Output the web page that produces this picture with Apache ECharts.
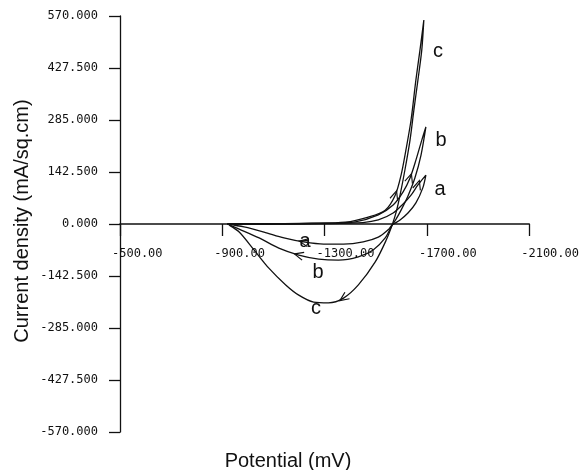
<!DOCTYPE html>
<html>
<head>
<meta charset="utf-8">
<script src="https://cdn.jsdelivr.net/npm/echarts@6/dist/echarts.min.js"></script>
<style>
html,body{margin:0;padding:0;background:#fff;}
#chart{width:582px;height:470px;}
</style>
</head>
<body>
<div id="chart"></div>
<script>
// Potential (mV) and current density (mA/sq.cm) for each sweep, in drawing order:
// forward sweep -> reverse sweep -> cathodic hump back to start
const potA = [-919,-1100,-1300,-1450,-1510,-1568,-1607,-1638,-1665,-1696,
              -1684,-1657,-1626,-1595,-1564,
              -1548,-1510,-1451,-1374,-1296,-1218,-1141,-1063,-985,-919];
const curA = [0,0,1,4,11,30,55,79,107,134,
              99,58,30,11,-3,
              -16,-36,-49,-55,-55,-49,-38,-22,-8,0];

const potB = [-919,-1100,-1300,-1420,-1510,-1568,-1607,-1634,-1657,-1680,-1696,
              -1677,-1653,-1626,-1599,-1580,-1564,
              -1537,-1490,-1432,-1354,-1277,-1199,-1121,-1044,-966,-919];
const curB = [0,0,2,6,25,52,88,126,175,230,266,
              189,126,77,38,14,-3,
              -38,-71,-90,-99,-96,-85,-66,-38,-14,0];

const potC = [-927,-1100,-1250,-1381,-1471,-1537,-1576,-1599,-1618,-1638,-1657,-1673,-1688,
              -1680,-1665,-1649,-1634,-1614,-1595,-1580,-1564,
              -1541,-1498,-1432,-1374,-1315,-1257,-1199,-1148,-1082,-1024,-966,-927];
const curC = [0,1,2,5,19,38,79,134,203,285,395,477,559,
              477,395,312,230,148,79,33,-3,
              -44,-104,-167,-203,-216,-214,-195,-167,-121,-71,-22,-3];

// sweep-direction arrows: index of the point in each series that carries one
const arrowIdxA = [8, 20];
const arrowIdxB = [7, 22];
const arrowIdxC = [6, 24];

const xMin = -2100, xMax = -500, xStep = 400;
const yMin = -570, yMax = 570, yStep = 142.5;

const arrowRot = {fwd:-18, hump:{a:80, b:75, c:125}};
function build(xs, ys, idx, humpRot){
  return xs.map((x,i)=>{
    const k = idx.indexOf(i);
    if (k < 0) return [x, ys[i]];
    return {value:[x, ys[i]], symbol:'path://M0,10 L5,0 L10,10', symbolSize:[8,9],
            symbolRotate: k === 0 ? arrowRot.fwd : humpRot,
            itemStyle:{color:'rgba(0,0,0,0)', borderColor:'#111', borderWidth:1.2}};
  });
}

const chart = echarts.init(document.getElementById('chart'), null, {renderer:'canvas'});
const tickFont = {fontFamily:'DejaVu Sans Mono', fontSize:12, color:'#111'};
const lineStyle = {color:'#111', width:1.3};
function curve(name, xs, ys, idx, humpRot){
  return {name, type:'line', data:build(xs,ys,idx,humpRot), smooth:0.3,
          symbol:'none', showSymbol:true, lineStyle, z:3, animation:false,
          emphasis:{disabled:true}};
}
const plotTop = 16, plotBottom = 38, H = 470;
const plotH = H - plotTop - plotBottom;
chart.setOption({
  animation:false,
  backgroundColor:'#fff',
  grid:{left:120, right:50, top:plotTop, bottom:plotBottom, containLabel:false},
  xAxis:{type:'value', min:xMin, max:xMax, interval:xStep, inverse:true,
    position:'bottom', offset:-plotH * (0 - yMin) / (yMax - yMin),
    axisLine:{onZero:false, lineStyle:{color:'#111', width:1.6}},
    axisTick:{show:true, length:12, inside:false, lineStyle:{color:'#111', width:1.3}},
    axisLabel:Object.assign({margin:24, align:'left', padding:[0,0,0,-8],
      formatter:v=>v.toFixed(2)}, tickFont),
    splitLine:{show:false}},
  yAxis:{type:'value', min:yMin, max:yMax, interval:yStep,
    axisLine:{lineStyle:{color:'#111', width:1.3}},
    axisTick:{show:true, length:11, lineStyle:{color:'#111', width:1.3}},
    axisLabel:Object.assign({margin:22, formatter:v=>v.toFixed(3)}, tickFont),
    splitLine:{show:false}},
  series:[curve('a', potA, curA, arrowIdxA, arrowRot.hump.a),
          curve('b', potB, curB, arrowIdxB, arrowRot.hump.b),
          curve('c', potC, curC, arrowIdxC, arrowRot.hump.c)],
  graphic:[
    {type:'text', x:22, y:221, rotation:Math.PI/2,
      style:{text:'Current density (mA/sq.cm)', font:'20px "Liberation Sans"', fill:'#111',
             align:'center', verticalAlign:'middle'}},
    {type:'text', x:288, y:461,
      style:{text:'Potential (mV)', font:'20px "Liberation Sans"', fill:'#111',
             align:'center', verticalAlign:'middle'}},
    {type:'text', x:438, y:51, style:{text:'c', font:'20px "Liberation Sans"', fill:'#111', align:'center', verticalAlign:'middle'}},
    {type:'text', x:441, y:140, style:{text:'b', font:'20px "Liberation Sans"', fill:'#111', align:'center', verticalAlign:'middle'}},
    {type:'text', x:440, y:189, style:{text:'a', font:'20px "Liberation Sans"', fill:'#111', align:'center', verticalAlign:'middle'}},
    {type:'text', x:305, y:241, style:{text:'a', font:'20px "Liberation Sans"', fill:'#111', align:'center', verticalAlign:'middle'}},
    {type:'text', x:318, y:272, style:{text:'b', font:'20px "Liberation Sans"', fill:'#111', align:'center', verticalAlign:'middle'}},
    {type:'text', x:316, y:308, style:{text:'c', font:'20px "Liberation Sans"', fill:'#111', align:'center', verticalAlign:'middle'}}
  ]
});
</script>
</body>
</html>
